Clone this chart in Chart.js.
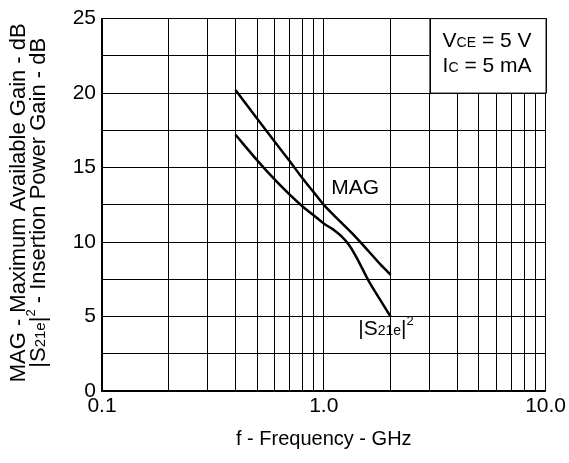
<!DOCTYPE html>
<html>
<head>
<meta charset="utf-8">
<script src="https://cdn.jsdelivr.net/npm/chart.js@4.4.0/dist/chart.umd.min.js"></script>
<style>
  html, body { margin: 0; padding: 0; background: #fff; }
  canvas { display: block; }
</style>
</head>
<body>
<canvas id="grafica" width="569" height="463"></canvas>
<script>
// ---------------------------------------------
// datos (GHz / dB)
// ---------------------------------------------
const frecMAG = [0.4, 0.5, 0.6, 0.7, 0.8, 0.9, 1.0, 1.2, 1.4, 1.6, 1.8, 1.9, 2.0]
const gananciaMAG = [20.2, 18.3, 16.75, 15.45, 14.3, 13.35, 12.5, 11.3, 10.3, 9.35, 8.5, 8.15, 7.8]

const frecS21 = [0.4, 0.5, 0.6, 0.7, 0.8, 0.9, 1.0, 1.1, 1.2, 1.3, 1.4, 1.5, 1.6, 1.8, 2.0]
const gananciaS21 = [17.2, 15.5, 14.2, 13.2, 12.4, 11.8, 11.25, 10.85, 10.4, 9.8, 9.0, 8.15, 7.35, 6.1, 5.0]

// lineas de rejilla y etiquetas de los ejes
const ticksX = [0.1, 0.2, 0.3, 0.4, 0.5, 0.6, 0.7, 0.8, 0.9, 1, 2, 3, 4, 5, 6, 7, 8, 9, 10]
const etiquetasX = [0.1, 1, 10]
const etiquetasY = [0, 5, 10, 15, 20, 25]

const fuente = '"Liberation Sans", Arial, sans-serif'

const puntos = (xs, ys) => xs.map((x, i) => ({ x: x, y: ys[i] }))

// escribe un texto con trozos de distinto tamaño (subindices etc)
function textoRico(ctx, trozos, x, y, align) {
  let ancho = 0
  for (let t of trozos) {
    ctx.font = t.size + 'px ' + fuente
    ancho += ctx.measureText(t.t).width
  }
  let xi = align === 'center' ? x - ancho / 2 : x
  ctx.textAlign = 'left'
  ctx.textBaseline = 'alphabetic'
  for (let t of trozos) {
    ctx.font = t.size + 'px ' + fuente
    ctx.fillText(t.t, xi, y + (t.dy || 0))
    xi += ctx.measureText(t.t).width
  }
}

const extras = {
  id: 'extras',
  beforeDatasetsDraw(chart) {
    // cuadro con las condiciones, tapa la rejilla
    const { ctx, scales } = chart
    const x0 = scales.x.getPixelForValue(3)
    const x1 = scales.x.getPixelForValue(10)
    const y0 = scales.y.getPixelForValue(25)
    const y1 = scales.y.getPixelForValue(20)
    ctx.save()
    ctx.fillStyle = '#fff'
    ctx.fillRect(x0, y0, x1 - x0, y1 - y0)
    ctx.strokeStyle = '#000'
    ctx.lineWidth = 1
    ctx.strokeRect(Math.round(x0) + 0.5, y0, x1 - x0, Math.round(y1 - y0) + 0.5)
    ctx.fillStyle = '#000'
    const xt = x0 + 13
    textoRico(ctx, [{ t: 'V', size: 21 }, { t: 'CE', size: 14 }, { t: ' = 5 V', size: 21 }], xt, y0 + 28)
    textoRico(ctx, [{ t: 'I', size: 21 }, { t: 'C', size: 14 }, { t: ' = 5 mA', size: 21 }], xt, y0 + 53)
    ctx.restore()
  },
  afterDraw(chart) {
    const { ctx, scales, chartArea } = chart
    ctx.save()
    ctx.fillStyle = '#000'
    // nombres de las curvas
    textoRico(ctx, [{ t: 'MAG', size: 21 }], scales.x.getPixelForValue(1.08), scales.y.getPixelForValue(13.2))
    textoRico(ctx, [{ t: '|S', size: 21 }, { t: '21e', size: 14 }, { t: '|', size: 21 }, { t: '2', size: 13, dy: -10 }],
      scales.x.getPixelForValue(1.43), scales.y.getPixelForValue(3.75))
    // titulo eje x
    textoRico(ctx, [{ t: 'f - Frequency - GHz', size: 20 }], (chartArea.left + chartArea.right) / 2, 445, 'center')
    // titulo eje y (dos lineas)
    const cy = (chartArea.top + chartArea.bottom) / 2
    ctx.translate(25, cy - 2)
    ctx.rotate(-Math.PI / 2)
    textoRico(ctx, [{ t: 'MAG - Maximum Available Gain - dB', size: 22 }], 0, 0, 'center')
    textoRico(ctx, [{ t: '|S', size: 22 }, { t: '21e', size: 15 }, { t: '|', size: 22 }, { t: '2', size: 13, dy: -10 },
      { t: ' - Insertion Power Gain - dB', size: 22 }], 0, 20, 'center')
    ctx.restore()
  }
}

new Chart(document.getElementById('grafica'), {
  type: 'line',
  data: {
    datasets: [{
      label: 'MAG',
      data: puntos(frecMAG, gananciaMAG),
      borderColor: '#000',
      borderWidth: 2.5,
      pointRadius: 0,
      tension: 0.4,
      fill: false
    }, {
      label: '|S21e|2',
      data: puntos(frecS21, gananciaS21),
      borderColor: '#000',
      borderWidth: 2.5,
      pointRadius: 0,
      tension: 0.4,
      fill: false
    }]
  },
  options: {
    responsive: false,
    animation: false,
    devicePixelRatio: 1,
    layout: { padding: { top: 16, right: 23, left: 0, bottom: 0 } },
    plugins: { legend: { display: false }, tooltip: { enabled: false } },
    scales: {
      x: {
        type: 'logarithmic',
        min: 0.1,
        max: 10,
        afterBuildTicks: (scale) => { scale.ticks = ticksX.map(v => ({ value: v })) },
        afterFit: (scale) => { scale.height = 72 },
        grid: { color: '#000', lineWidth: 1, drawTicks: false },
        border: { color: '#000', width: 1.5 },
        ticks: {
          autoSkip: false,
          maxRotation: 0,
          padding: 3,
          color: '#000',
          font: { family: fuente, size: 21 },
          callback: (v) => etiquetasX.includes(v) ? v.toFixed(1) : ''
        }
      },
      y: {
        min: 0,
        max: 25,
        afterFit: (scale) => { scale.width = 102 },
        grid: { color: '#000', lineWidth: 1, drawTicks: false },
        border: { color: '#000', width: 1.5 },
        ticks: {
          stepSize: 2.5,
          padding: 6,
          color: '#000',
          font: { family: fuente, size: 21 },
          callback: (v) => etiquetasY.includes(v) ? String(v) : ''
        }
      }
    }
  },
  plugins: [extras]
})
</script>
</body>
</html>
